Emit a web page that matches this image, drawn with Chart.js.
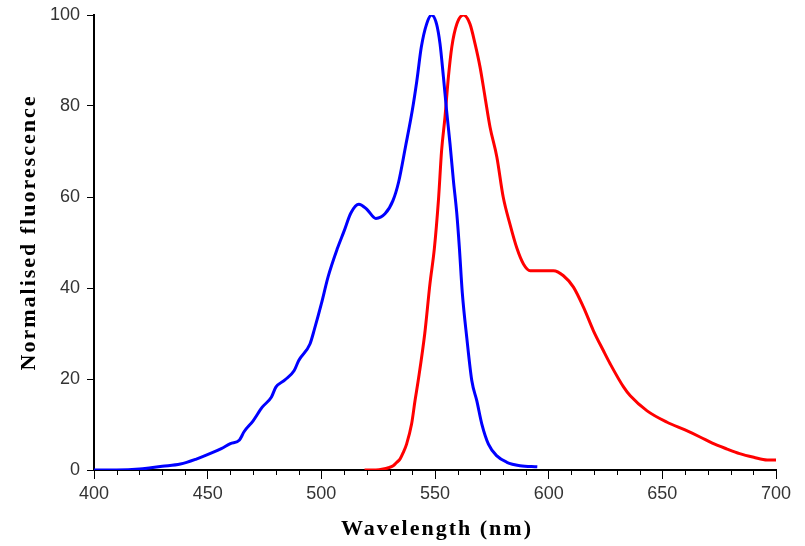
<!DOCTYPE html>
<html>
<head>
<meta charset="utf-8">
<script src="https://cdn.jsdelivr.net/npm/chart.js@4"></script>
<style>
  html, body { margin: 0; padding: 0; background: #ffffff; }
  canvas { display: block; }
</style>
</head>
<body>
<canvas id="c" width="805" height="546"></canvas>
<script>
// ---- data ----
const blueX = [400, 410, 420, 425, 430, 438, 445, 452, 456, 460, 464, 466, 470, 474, 478, 480, 484, 488, 490, 495, 497, 500, 503, 507, 510, 513, 516.5, 520, 524, 528, 531.5, 534, 537, 540, 542, 544, 546.3, 548.5, 550.7, 552.2, 553.7, 555.1, 556.6, 558.1, 559.6, 560.7, 562, 564, 566.2, 568.4, 570.6, 573.5, 577.2, 581.6, 587.4, 595];
const blueY = [0, 0, 0.2, 0.5, 0.8, 1.3, 2.4, 3.8, 4.7, 5.8, 6.6, 8.4, 10.8, 13.8, 16, 18.2, 19.8, 21.8, 24, 27.7, 31, 36.5, 42.5, 48.6, 52.5, 56.5, 58.4, 57.3, 55.3, 56.3, 59.2, 63.3, 71, 79, 85.5, 93, 98, 100, 98, 93.7, 86.4, 79, 71.7, 63.6, 56.3, 49, 39, 29, 19.6, 15.2, 10.1, 5.7, 3.1, 1.7, 0.95, 0.7];

const redX = [519, 524, 527.2, 529.5, 531.6, 533, 534.6, 536, 537.5, 539.7, 541.2, 542.6, 545.5, 547.8, 549.7, 551.5, 552.9, 554.4, 555.9, 557.4, 559.6, 562.5, 565.4, 567.6, 569.8, 572, 574.2, 577.2, 580, 583, 586, 588.9, 591.9, 597, 602.1, 606.5, 610.9, 615.3, 619.7, 624.1, 627.1, 633, 635.9, 643.3, 652.1, 660, 666.8, 672, 678.5, 684, 690.2, 696.1, 700];
const redY = [0, 0, 0.2, 0.5, 0.95, 1.6, 2.4, 3.8, 5.7, 10.1, 15.2, 19.6, 30, 41, 48.6, 59.2, 70.2, 77.6, 86.4, 93, 98, 100, 98, 93.7, 88.6, 82, 75.4, 68.8, 60, 54, 48.8, 45.3, 43.8, 43.8, 43.8, 42.7, 40.2, 35.8, 30.6, 26.2, 23.3, 18.2, 16.3, 13, 10.5, 8.8, 7.2, 5.9, 4.6, 3.6, 2.8, 2.2, 2.2];

const xTicks = [400, 450, 500, 550, 600, 650, 700];
const xMinorTicks = [410, 420, 430, 440, 460, 470, 480, 490, 510, 520, 530, 540, 560, 570, 580, 590, 610, 620, 630, 640, 660, 670, 680, 690];
const yTicks = [0, 20, 40, 60, 80, 100];
const xTitle = 'Wavelength (nm)';
const yTitle = 'Normalised fluorescence';

const toPoints = (xs, ys) => xs.map((x, i) => ({ x: x, y: ys[i] }));

// minor ticks on the x axis, placed through the x scale
const minorTicks = {
  id: 'minorTicks',
  afterDraw(chart) {
    const s = chart.scales.x;
    const ctx = chart.ctx;
    ctx.save();
    ctx.strokeStyle = '#000';
    ctx.lineWidth = 1;
    ctx.beginPath();
    for (const v of xMinorTicks) {
      const px = Math.round(s.getPixelForValue(v)) + 0.5;
      ctx.moveTo(px, s.top);
      ctx.lineTo(px, s.top + 5);
    }
    ctx.stroke();
    ctx.restore();
  }
};

// letter spacing / offset for the axis titles
const titleSpacing = {
  id: 'titleSpacing',
  beforeDraw(chart) {
    const cfg = [['x', 2, 0], ['y', 0, -10]];
    for (const [id, dx, dy] of cfg) {
      const s = chart.scales[id];
      if (s && !s._titlePatched) {
        const orig = s.drawTitle;
        s.drawTitle = function () {
          const ctx = this.ctx;
          ctx.save();
          ctx.translate(dx, dy);
          ctx.letterSpacing = '2px';
          orig.call(this);
          ctx.restore();
        };
        s._titlePatched = true;
      }
    }
  }
};

new Chart(document.getElementById('c'), {
  type: 'line',
  data: {
    datasets: [
      {
        data: toPoints(blueX, blueY),
        borderColor: '#0000ff',
        borderWidth: 3,
        pointRadius: 0,
        fill: false,
        cubicInterpolationMode: 'monotone'
      },
      {
        data: toPoints(redX, redY),
        borderColor: '#ff0000',
        borderWidth: 3,
        pointRadius: 0,
        fill: false,
        cubicInterpolationMode: 'monotone'
      }
    ]
  },
  options: {
    responsive: false,
    animation: false,
    layout: { padding: { left: 0, right: 29, top: 15, bottom: 0 } },
    plugins: { legend: { display: false }, tooltip: { enabled: false } },
    scales: {
      x: {
        type: 'linear',
        min: 400,
        max: 700,
        afterBuildTicks: (s) => { s.ticks = xTicks.map(v => ({ value: v })); },
        afterFit: (s) => { s.height = 76; },
        grid: { drawOnChartArea: false, drawTicks: true, tickLength: 9, tickColor: '#000', tickWidth: 1 },
        border: { display: true, color: '#000', width: 2 },
        ticks: {
          padding: 4,
          color: '#333',
          font: { family: "'Liberation Sans', Arial, sans-serif", size: 18 },
          maxRotation: 0,
          autoSkip: false
        },
        title: {
          display: true,
          text: xTitle,
          color: '#000',
          font: { family: "'Liberation Serif', 'Times New Roman', serif", size: 22, weight: 'bold' },
          padding: { top: 0, bottom: 3 }
        }
      },
      y: {
        min: 0,
        max: 100,
        afterBuildTicks: (s) => { s.ticks = yTicks.map(v => ({ value: v })); },
        afterFit: (s) => { s.width = 94; s.paddingTop = 0; s.paddingBottom = 0; },
        grid: { drawOnChartArea: false, drawTicks: true, tickLength: 7, tickColor: '#000', tickWidth: 1 },
        border: { display: true, color: '#000', width: 2 },
        ticks: {
          padding: 7,
          color: '#333',
          font: { family: "'Liberation Sans', Arial, sans-serif", size: 18 },
          autoSkip: false
        },
        title: {
          display: true,
          text: yTitle,
          color: '#000',
          font: { family: "'Liberation Serif', 'Times New Roman', serif", size: 22, weight: 'bold' },
          padding: { top: 16, bottom: 0 }
        }
      }
    }
  },
  plugins: [minorTicks, titleSpacing]
});
</script>
</body>
</html>
